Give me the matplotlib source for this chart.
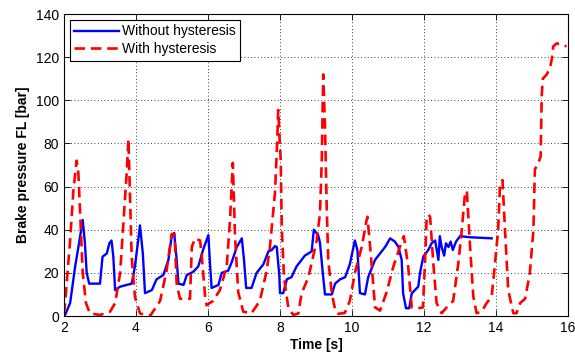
import matplotlib
matplotlib.use("Agg")
import matplotlib.pyplot as plt

# Without hysteresis (blue)
t_without = [2.0, 2.03, 2.17, 2.31, 2.4, 2.52, 2.58, 2.63, 2.7, 3.0, 3.07, 3.19, 3.26, 3.32, 3.37, 3.42,
             3.56, 3.74, 3.88, 3.97, 4.06, 4.11, 4.19, 4.25, 4.44, 4.57, 4.76, 4.9, 4.99, 5.06, 5.13, 5.18,
             5.32, 5.41, 5.59, 5.73, 5.87, 6.01, 6.06, 6.1, 6.29, 6.38, 6.56, 6.66, 6.8, 6.94, 7.0, 7.06,
             7.21, 7.35, 7.54, 7.68, 7.77, 7.86, 7.91, 7.98, 8.0, 8.09, 8.19, 8.32, 8.46, 8.6, 8.69, 8.79,
             8.88, 8.94, 9.06, 9.11, 9.2, 9.25, 9.44, 9.53, 9.67, 9.81, 9.94, 10.08, 10.15, 10.22, 10.36,
             10.45, 10.64, 10.78, 10.92, 11.06, 11.19, 11.29, 11.38, 11.42, 11.5, 11.59, 11.66, 11.84,
             11.89, 11.98, 12.12, 12.21, 12.31, 12.4, 12.44, 12.49, 12.56, 12.61, 12.68, 12.74, 12.8,
             12.89, 13.0, 13.28, 13.88]
p_without = [0.3, 0.5, 6, 23, 32, 44.5, 34, 20, 15, 15, 27.5, 29, 33.7, 35, 27.5, 12,
             13.6, 14.4, 15, 23, 35, 42, 29, 10.6, 12, 17, 19, 26, 37, 38.5, 26, 15,
             14.4, 19, 20.5, 23, 31, 37.5, 23, 13, 14.4, 20, 21, 25, 32, 36, 26, 13,
             13, 20, 24, 30, 30.6, 32.4, 32, 19, 10.6, 10.6, 17, 18, 23, 26, 28, 29,
             30, 40, 37.5, 34, 18, 10, 10, 15, 17, 18, 24, 35, 30.6, 10.6, 10,
             18, 26, 29, 32, 36, 34.5, 32, 26, 10.5, 3.6, 3.6, 10.5, 13.6,
             20, 27.5, 30.6, 33.7, 35, 26, 37, 32, 28, 33.7, 32, 34.5, 30.6,
             34.5, 37, 36.5, 36]

# With hysteresis (red dashed)
t_with = [2.0, 2.03, 2.17, 2.26, 2.35, 2.4, 2.46, 2.52, 2.61, 2.72, 3.0, 3.28, 3.42, 3.56, 3.65, 3.74,
          3.79, 3.88, 3.97, 4.11, 4.39, 4.67, 4.85, 4.99, 5.07, 5.13, 5.22, 5.44, 5.5, 5.55, 5.64, 5.78,
          5.82, 5.92, 5.96, 6.14, 6.33, 6.52, 6.61, 6.69, 6.75, 6.84, 6.98, 7.21, 7.44, 7.63, 7.72,
          7.86, 7.92, 7.95, 8.02, 8.05, 8.11, 8.23, 8.37, 8.51, 8.6, 8.79, 9.02, 9.11, 9.16, 9.2,
          9.25, 9.3, 9.34, 9.44, 9.53, 9.62, 9.8, 9.94, 10.08, 10.27, 10.4, 10.43, 10.55, 10.64,
          10.78, 10.96, 11.15, 11.33, 11.44, 11.56, 11.66, 11.84, 11.97, 12.03, 12.07, 12.12, 12.17,
          12.26, 12.35, 12.49, 12.63, 12.81, 12.95, 13.05, 13.14, 13.19, 13.28, 13.37, 13.46, 13.6,
          13.74, 13.88, 13.97, 14.06, 14.11, 14.18, 14.25, 14.34, 14.48, 14.57, 14.67, 14.81, 14.94,
          15.04, 15.08, 15.18, 15.24, 15.27, 15.3, 15.41, 15.5, 15.56, 15.59, 15.69, 15.96]
p_with = [1, 6, 35, 58, 72, 66, 43, 20, 6, 1.2, 0.5, 2, 6, 20, 43, 66,
          82, 27.5, 9, 1.2, 0, 7, 21, 38, 38, 15, 8, 8, 8, 32, 36, 35,
          29, 9, 5, 7, 12, 23, 44, 71, 37, 11, 2, 1.3, 7, 21, 32,
          57, 80, 95.5, 72, 41, 18, 4, 0.5, 1.2, 10.5, 18, 35, 47.6, 72, 112,
          88, 49, 26, 10.5, 3, 1, 1.4, 7, 20, 32, 44, 46, 23, 4,
          2.5, 11, 23, 32, 37, 23, 4, 3.6, 4, 26, 44, 47, 46,
          24, 6, 1.3, 4, 7, 24, 40, 57, 58, 32, 9, 1.3, 2,
          6, 9, 24, 40, 60, 63, 40, 12, 1.3, 1.3, 6, 8, 20,
          40, 68, 71, 74, 102, 110, 112, 115, 120, 125, 126.4, 125]

x_ticks = [2, 4, 6, 8, 10, 12, 14, 16]
y_ticks = [0, 20, 40, 60, 80, 100, 120, 140]

plt.rcParams['font.family'] = ['Liberation Sans', 'DejaVu Sans']

fig = plt.figure(figsize=(5.75, 3.56), dpi=100)
ax = fig.add_axes([64/575, 40/356, 504/575, 302/356])

ax.plot(t_without, p_without, color='#0000ff', lw=1.7, label='Without hysteresis')
ax.plot(t_with, p_with, color='#ff0000', lw=1.9, ls=(0, (4, 2.2)), label='With hysteresis')

ax.set_xlim(2, 16)
ax.set_ylim(0, 140)
ax.set_xticks(x_ticks)
ax.set_yticks(y_ticks)
ax.tick_params(direction='in', length=4, labelsize=10, top=True, right=True, width=0.6)
ax.grid(True, color='black', ls=(0, (1, 3)), lw=0.6)
for s in ax.spines.values():
    s.set_linewidth(0.8)

ax.set_xlabel('Time [s]', fontsize=10, fontweight='bold', labelpad=2)
ax.set_ylabel('Brake pressure FL [bar]', fontsize=10, fontweight='bold', labelpad=4)

leg = ax.legend(loc='upper left', fontsize=10, fancybox=False, framealpha=1,
                edgecolor='black', borderaxespad=0.4, handlelength=3.2,
                borderpad=0.35, labelspacing=0.25, handletextpad=0.2)
leg.get_frame().set_linewidth(0.8)

fig.savefig('out.png', dpi=100)
